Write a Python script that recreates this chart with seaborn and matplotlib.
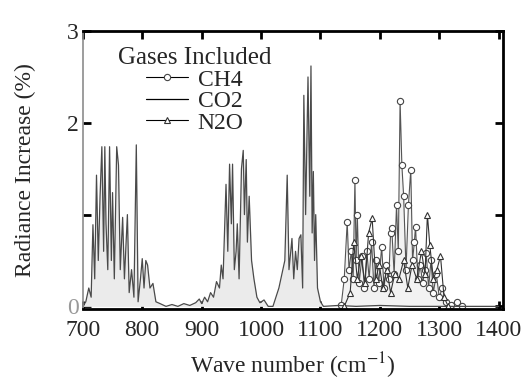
import matplotlib
matplotlib.use("Agg")
import matplotlib.pyplot as plt
import seaborn as sns
import pandas as pd

# CO2 bands (wave number, radiance increase %)
co2_wn = [700, 705, 710, 714, 717, 720, 723, 726, 729, 732, 735, 737, 739, 742, 745,
          748, 750, 753, 757, 760, 763, 767, 770, 775, 778, 782, 786, 790, 793, 797,
          800, 803, 806, 809, 813, 818, 823, 830, 840,
          850, 860, 870, 880, 890,
          896, 900, 905, 910, 915, 920, 925, 930, 933, 936, 941, 944, 947, 950, 952,
          955, 958, 960, 963, 967, 970, 972, 975, 977, 980, 984, 988, 993, 998, 1005, 1012,
          1020, 1025, 1030, 1035, 1040, 1044, 1047, 1050, 1052, 1055, 1058, 1061, 1064,
          1067, 1070, 1072, 1075, 1079, 1082, 1084, 1086, 1088, 1090, 1092, 1095, 1100,
          1105, 1130, 1160, 1200, 1250, 1300, 1350, 1400]
co2_val = [0.0, 0.05, 0.2, 0.1, 0.89, 0.3, 1.43, 0.5, 1.2, 1.74, 0.6, 1.74, 0.9, 0.4, 1.74,
           0.5, 1.24, 0.3, 1.74, 1.54, 0.4, 0.97, 0.3, 1.0, 0.15, 0.4, 0.1, 1.76, 0.05, 0.3,
           0.52, 0.2, 0.5, 0.45, 0.2, 0.25, 0.05, 0.03, 0.0,
           0.02, 0.0, 0.03, 0.01, 0.04,
           0.08, 0.03, 0.1, 0.05, 0.15, 0.1, 0.27, 0.2, 0.45, 0.3, 1.33, 0.6, 1.55, 0.9, 1.55,
           0.4, 0.6, 0.9, 0.3, 1.5, 1.7, 1.0, 1.6, 0.7, 1.2, 0.5, 0.3, 0.1, 0.04, 0.07, 0.0,
           0.0, 0.1, 0.2, 0.35, 0.5, 1.43, 0.4, 0.6, 0.74, 0.3, 0.6, 0.4, 0.74,
           0.78, 0.2, 2.3, 1.0, 2.5, 1.2, 2.62, 0.8, 1.47, 0.5, 1.0, 0.2, 0.05,
           0.0, 0.01, 0.0, 0.01, 0.0, 0.0, 0.0, 0.0]

# CH4 band
ch4_wn = [1135, 1140, 1145, 1148, 1152, 1155, 1158, 1160, 1162, 1165, 1170, 1174, 1178,
          1182, 1186, 1190, 1194, 1198, 1203, 1207, 1211, 1215, 1218, 1220, 1224, 1228,
          1231, 1234, 1237, 1240, 1244, 1248, 1252, 1255, 1258, 1260, 1264, 1268, 1272,
          1276, 1278, 1282, 1286, 1290, 1295, 1300, 1305, 1312, 1320, 1329, 1338]
ch4_val = [0.02, 0.3, 0.92, 0.4, 0.6, 0.3, 1.38, 0.5, 1.0, 0.25, 0.55, 0.2, 0.6,
           0.3, 0.7, 0.2, 0.5, 0.25, 0.65, 0.2, 0.45, 0.3, 0.8, 0.85, 0.35, 1.1,
           0.6, 2.24, 1.54, 1.2, 0.4, 1.1, 1.49, 0.5, 0.7, 0.87, 0.3, 0.45, 0.25,
           0.4, 0.58, 0.2, 0.5, 0.15, 0.35, 0.1, 0.2, 0.05, 0.02, 0.05, 0.0]

# N2O band
n2o_wn = [1140, 1150, 1156, 1162, 1168, 1175, 1181, 1187, 1193, 1199, 1205, 1212, 1218,
          1225, 1232, 1240, 1247, 1254, 1262, 1270, 1276, 1280, 1284, 1290, 1296, 1302,
          1308, 1315]
n2o_val = [0.0, 0.15, 0.7, 0.3, 0.55, 0.25, 0.8, 0.96, 0.3, 0.45, 0.2, 0.4, 0.15,
           0.35, 0.3, 0.5, 0.2, 0.45, 0.3, 0.6, 0.35, 1.0, 0.67, 0.3, 0.4, 0.55,
           0.1, 0.0]

sns.set_style("ticks")
plt.rcParams['font.family'] = ['Liberation Serif', 'DejaVu Serif']
plt.rcParams['mathtext.fontset'] = 'stix'

fig = plt.figure(figsize=(5.31, 3.84), dpi=100)
ax = fig.add_axes([0.156, 0.195, 0.791, 0.724])

co2 = pd.DataFrame({'wn': co2_wn, 'val': co2_val})
ch4 = pd.DataFrame({'wn': ch4_wn, 'val': ch4_val})
n2o = pd.DataFrame({'wn': n2o_wn, 'val': n2o_val})

ax.fill_between(co2['wn'], co2['val'], color='#ebebeb', lw=0)
ax.fill_between(ch4['wn'], ch4['val'], color='#f2f2f2', lw=0)

sns.lineplot(data=ch4, x='wn', y='val', ax=ax, sort=False, color='#555555', lw=0.8,
             marker='o', markersize=4.5, markerfacecolor='white', markeredgecolor='#444444',
             markeredgewidth=0.8, label='CH4')
sns.lineplot(data=co2, x='wn', y='val', ax=ax, sort=False, color='#4a4a4a', lw=0.9,
             label='CO2')
sns.lineplot(data=n2o, x='wn', y='val', ax=ax, sort=False, color='#333333', lw=0.8,
             marker='^', markersize=4, markerfacecolor='white', markeredgecolor='#333333',
             markeredgewidth=0.8, label='N2O')

ax.set_xlim(700, 1407)
ax.set_ylim(-0.03, 3.0)
ax.set_xticks([700, 800, 900, 1000, 1100, 1200, 1300, 1400])
ax.set_yticks([0, 1, 2, 3])
ax.set_yticklabels(['0', '', '2', '3'])
ax.get_yticklabels()[0].set_color('#999999')

ax.tick_params(axis='both', direction='in', labelsize=17, length=6, width=2, color='black')
ax.tick_params(axis='x', top=True, pad=8)
ax.tick_params(axis='y', right=True, pad=3)

for side in ['top', 'right', 'bottom']:
    ax.spines[side].set_linewidth(2)
    ax.spines[side].set_color('black')
ax.spines['left'].set_linewidth(1.2)
ax.spines['left'].set_color('#8c8c8c')

ax.set_xlabel('Wave number (cm$^{-1}$)', fontsize=17, labelpad=7)
ax.set_ylabel('Radiance Increase (%)', fontsize=17, labelpad=22)

leg = ax.legend(title='Gases Included', loc='upper left', bbox_to_anchor=(0.055, 0.985),
                frameon=False, fontsize=17, title_fontsize=18, handlelength=1.8,
                handletextpad=0.4, labelspacing=0.0, borderpad=0, numpoints=1)
for h in leg.legend_handles:
    h.set_color('black')

fig.savefig('out.png', dpi=100)
